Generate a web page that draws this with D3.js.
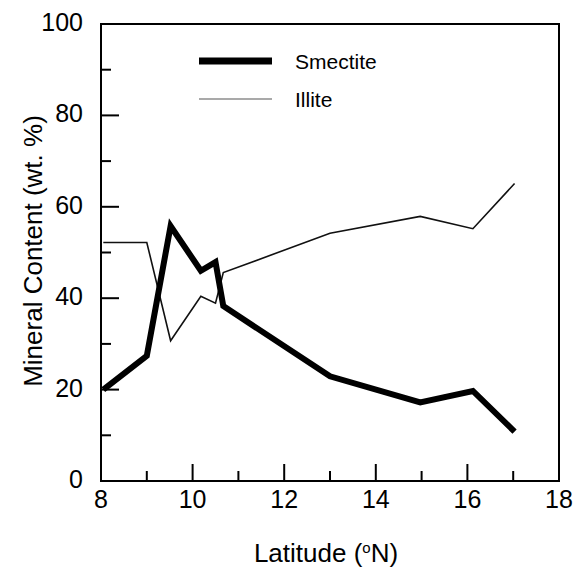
<!DOCTYPE html>
<html><head><meta charset="utf-8">
<script src="https://cdn.jsdelivr.net/npm/d3@7"></script>
<style>body{margin:0;background:#fff}svg{display:block}text{font-family:"Liberation Sans",Arial,sans-serif;fill:#000}</style>
</head><body>
<svg id="c" width="573" height="568"></svg>
<script>
const latitude = [8.05, 9.0, 9.52, 10.18, 10.5, 10.67, 13.0, 14.97, 16.12, 17.03];
const smectite = [20, 27.4, 55.8, 46.0, 47.9, 38.3, 22.9, 17.2, 19.7, 10.8];
const illite   = [52.2, 52.2, 30.7, 40.4, 38.9, 45.6, 54.2, 57.9, 55.2, 65.1];
const xTicks = [8, 10, 12, 14, 16, 18];
const yTicks = [0, 20, 40, 60, 80, 100];
const seriesNames = ["Smectite", "Illite"];

const svg = d3.select("#c");
const L = 101, R = 559, T = 24, B = 481;
const x = d3.scaleLinear().domain([8, 18]).range([L, R]);
const y = d3.scaleLinear().domain([0, 100]).range([B, T]);

// frame
const g = svg.append("g").attr("stroke", "#000").attr("stroke-width", 2).attr("fill", "none");
g.append("path").attr("d", `M${L},${T}H${R}V${B}H${L}Z`);

// y ticks
d3.range(0, 101, 10).forEach(v => {
  if (v === 0 || v === 100) return;
  const len = v % 20 === 0 ? 18 : 10;
  g.append("line").attr("x1", L).attr("x2", L + len).attr("y1", y(v)).attr("y2", y(v));
});
// x ticks
d3.range(8, 18.01, 1).forEach(v => {
  if (v === 8 || v === 18) return;
  const len = v % 2 === 0 ? 17 : 10;
  g.append("line").attr("x1", x(v)).attr("x2", x(v)).attr("y1", B).attr("y2", B - len);
});

svg.selectAll(".yl").data(yTicks).enter().append("text")
  .attr("x", L - 18).attr("y", d => y(d) - 2).attr("text-anchor", "end")
  .attr("dominant-baseline", "central").attr("font-size", 25).text(d => d);
svg.selectAll(".xl").data(xTicks).enter().append("text")
  .attr("x", d => x(d)).attr("y", B + 27).attr("text-anchor", "middle")
  .attr("font-size", 25).text(d => d);

// axis titles
const xt = svg.append("text").attr("x", 326).attr("y", 562).attr("text-anchor", "middle").attr("font-size", 26);
xt.append("tspan").text("Latitude (");
xt.append("tspan").attr("font-size", 15).attr("dy", -9).text("o");
xt.append("tspan").attr("dy", 9).text("N)");
svg.append("text").attr("transform", "translate(42,251) rotate(-90)").attr("text-anchor", "middle")
  .attr("font-size", 26).text("Mineral Content (wt. %)");

const line = d3.line().x(d => x(d[0])).y(d => y(d[1]));
svg.append("path").datum(latitude.map((d, i) => [d, illite[i]])).attr("d", line)
  .attr("fill", "none").attr("stroke", "#111").attr("stroke-width", 1.6).attr("stroke-linejoin", "miter");
svg.append("path").datum(latitude.map((d, i) => [d, smectite[i]])).attr("d", line)
  .attr("fill", "none").attr("stroke", "#000").attr("stroke-width", 6).attr("stroke-linejoin", "miter").attr("stroke-miterlimit", 10);

// legend
const leg = [{n: seriesNames[0], w: 7, c: "#000", yy: 61}, {n: seriesNames[1], w: 1.2, c: "#555", yy: 99}];
leg.forEach(l => {
  svg.append("line").attr("x1", 199).attr("x2", 272).attr("y1", l.yy).attr("y2", l.yy)
    .attr("stroke", l.c).attr("stroke-width", l.w);
  svg.append("text").attr("x", 295).attr("y", l.yy + 7.5).attr("font-size", 21).text(l.n);
});
</script>
</body></html>
